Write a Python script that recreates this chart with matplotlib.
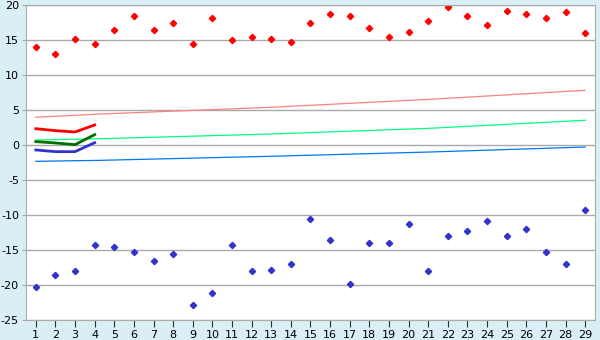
import numpy as np
import matplotlib
matplotlib.use("Agg")
import matplotlib.pyplot as plt

plt.rcParams['axes.unicode_minus'] = False
plt.rcParams['font.family'] = 'DejaVu Sans'

# точки (верхний и нижний ряды)
days = list(range(1, 30))
upper = [14.0, 13.0, 15.2, 14.5, 16.4, 18.4, 16.4, 17.4, 14.5, 18.1,
         14.95, 15.4, 15.2, 14.7, 17.4, 18.7, 18.4, 16.7, 15.4, 16.1,
         17.7, 19.7, 18.5, 17.1, 19.1, 18.7, 18.2, 19.0, 16.0]
lower = [-20.3, -18.6, -18.05, -14.3, -14.6, -15.3, -16.6, -15.5, -22.8, -21.2,
         -14.3, -18.05, -17.8, -17.0, -10.6, -13.6, -19.8, -14.05, -14.05, -11.3,
         -18.05, -13.05, -12.3, -10.9, -13.05, -12.05, -15.3, -17.0, -9.3]

# тонкие линии тренда
trend_x = [1, 4.3, 13, 21.1, 29]
trend_hi = [3.96, 4.43, 5.39, 6.53, 7.81]
trend_mid = [0.71, 0.9, 1.57, 2.39, 3.53]
trend_lo = [-2.33, -2.19, -1.61, -1.0, -0.29]

# толстые линии (первые 4 дня)
short_x = [1, 2, 3, 4]
short_hi = [2.33, 2.05, 1.86, 2.86]
short_mid = [0.48, 0.29, 0.05, 1.48]
short_lo = [-0.71, -0.95, -0.95, 0.33]

fig = plt.figure(figsize=(6, 3.4), dpi=100, facecolor='#daeff5')
ax = fig.add_axes([26 / 600, 20 / 340, 569 / 600, 315 / 340])
ax.set_facecolor('white')

ax.plot(trend_x, trend_hi, c='#ff8080', lw=0.9)
ax.plot(trend_x, trend_mid, c='#00ff80', lw=0.9)
ax.plot(trend_x, trend_lo, c='#0077ee', lw=0.9)

ax.plot(short_x, short_hi, c='#ff0000', lw=2.0)
ax.plot(short_x, short_mid, c='#006e00', lw=2.0)
ax.plot(short_x, short_lo, c='#3333cc', lw=2.0)

ax.plot(days, upper, ls='none', marker='D', ms=3.2, c='#ff0000')
ax.plot(days, lower, ls='none', marker='D', ms=3.2, c='#3333cc')

ax.set_xlim(0.5, 29.5)
ax.set_ylim(-25, 20)
ax.set_xticks(days)
ax.set_yticks(range(-25, 21, 5))
ax.yaxis.grid(True, color='#aaaaaa', lw=1)
ax.set_axisbelow(True)
for s in ax.spines.values():
    s.set_color('#aaaaaa')
ax.tick_params(axis='x', length=5, color='#333333', labelsize=8, pad=2)
ax.tick_params(axis='y', length=3, color='#aaaaaa', labelsize=8, pad=2)

fig.savefig('out.png', dpi=100, facecolor=fig.get_facecolor())
